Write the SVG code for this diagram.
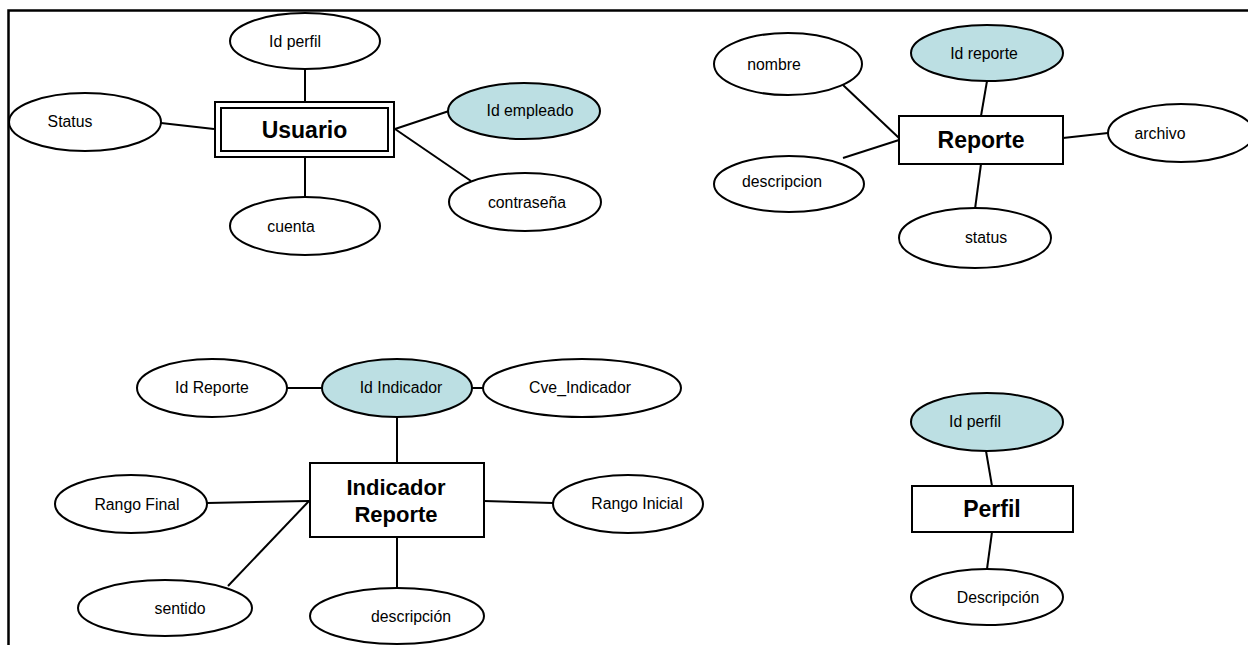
<svg xmlns="http://www.w3.org/2000/svg" width="1248" height="645" viewBox="0 0 1248 645">
  <style>
    .attr { fill: #ffffff; stroke: #000000; stroke-width: 2; }
    .key { fill: #bcdfe3; stroke: #000000; stroke-width: 2; }
    .ent { fill: #ffffff; stroke: #000000; stroke-width: 2; }
    .lbl { font-family: "Liberation Sans", Arial, sans-serif; font-size: 15.8px; fill: #000000; text-anchor: middle; }
    .title { font-family: "Liberation Sans", Arial, sans-serif; font-size: 23px; font-weight: bold; fill: #000000; text-anchor: middle; }
    .title2 { font-family: "Liberation Sans", Arial, sans-serif; font-size: 22px; font-weight: bold; fill: #000000; text-anchor: middle; }
    .link { stroke: #000000; stroke-width: 2; fill: none; }
  </style>
  <rect width="1248" height="645" fill="#ffffff"/>

  <!-- page frame -->
  <path d="M 8.5 645 V 10.5 H 1248" fill="none" stroke="#000000" stroke-width="2.5"/>

  <!-- connectors -->
  <g id="connectors">
    <!-- Usuario -->
    <line class="link" x1="305" y1="69" x2="305" y2="101"/>
    <line class="link" x1="161" y1="123" x2="214" y2="129"/>
    <line class="link" x1="305" y1="158" x2="305" y2="197"/>
    <line class="link" x1="395" y1="129" x2="449" y2="111"/>
    <line class="link" x1="395" y1="129" x2="471" y2="181"/>
    <!-- Reporte -->
    <line class="link" x1="843" y1="85" x2="899" y2="138"/>
    <line class="link" x1="843" y1="158" x2="899" y2="140"/>
    <line class="link" x1="987" y1="81" x2="981" y2="116"/>
    <line class="link" x1="981" y1="164" x2="975" y2="209"/>
    <line class="link" x1="1063" y1="138" x2="1108" y2="133"/>
    <!-- Indicador Reporte -->
    <line class="link" x1="287" y1="388" x2="322" y2="388"/>
    <line class="link" x1="472" y1="388" x2="483" y2="388"/>
    <line class="link" x1="397" y1="417" x2="397" y2="463"/>
    <line class="link" x1="207" y1="503" x2="309" y2="501"/>
    <line class="link" x1="228" y1="586" x2="309" y2="501"/>
    <line class="link" x1="484" y1="501" x2="553" y2="503"/>
    <line class="link" x1="397" y1="537" x2="397" y2="588"/>
    <!-- Perfil -->
    <line class="link" x1="986" y1="451" x2="992" y2="486"/>
    <line class="link" x1="992" y1="532" x2="987" y2="569"/>
  </g>

  <!-- entity: Usuario (weak entity, double border) -->
  <g id="usuario">
    <rect class="ent" x="215" y="102" width="179" height="55"/>
    <rect class="ent" x="221" y="108" width="167" height="43"/>
    <text class="title" x="304.5" y="138">Usuario</text>
  </g>
  <g id="usuario-idperfil">
    <ellipse class="attr" cx="305" cy="41" rx="75" ry="28"/>
    <text class="lbl" x="295" y="47">Id perfil</text>
  </g>
  <g id="usuario-status">
    <ellipse class="attr" cx="85" cy="122" rx="76" ry="29"/>
    <text class="lbl" x="70" y="127">Status</text>
  </g>
  <g id="usuario-cuenta">
    <ellipse class="attr" cx="305" cy="226" rx="75" ry="29"/>
    <text class="lbl" x="291" y="232">cuenta</text>
  </g>
  <g id="usuario-idempleado">
    <ellipse class="key" cx="524" cy="111" rx="76" ry="28"/>
    <text class="lbl" x="530" y="116">Id empleado</text>
  </g>
  <g id="usuario-contrasena">
    <ellipse class="attr" cx="525" cy="202" rx="76" ry="29"/>
    <text class="lbl" x="527" y="208">contraseña</text>
  </g>

  <!-- entity: Reporte -->
  <g id="reporte">
    <rect class="ent" x="899" y="116" width="164" height="48"/>
    <text class="title" x="981" y="148">Reporte</text>
  </g>
  <g id="reporte-nombre">
    <ellipse class="attr" cx="788" cy="64" rx="74" ry="31"/>
    <text class="lbl" x="774" y="70">nombre</text>
  </g>
  <g id="reporte-idreporte">
    <ellipse class="key" cx="987" cy="53" rx="76" ry="28"/>
    <text class="lbl" x="984" y="59">Id reporte</text>
  </g>
  <g id="reporte-descripcion">
    <ellipse class="attr" cx="789" cy="184" rx="75" ry="28"/>
    <text class="lbl" x="782" y="187">descripcion</text>
  </g>
  <g id="reporte-status">
    <ellipse class="attr" cx="975" cy="238" rx="76" ry="30"/>
    <text class="lbl" x="986" y="243">status</text>
  </g>
  <g id="reporte-archivo">
    <ellipse class="attr" cx="1181" cy="133" rx="73" ry="29"/>
    <text class="lbl" x="1160" y="139">archivo</text>
  </g>

  <!-- entity: Indicador Reporte -->
  <g id="indicador-reporte">
    <rect class="ent" x="310" y="463" width="174" height="74"/>
    <text class="title2" x="396" y="495">Indicador</text>
    <text class="title2" x="396" y="522">Reporte</text>
  </g>
  <g id="ir-idreporte">
    <ellipse class="attr" cx="212" cy="388" rx="75" ry="29"/>
    <text class="lbl" x="212" y="393">Id Reporte</text>
  </g>
  <g id="ir-idindicador">
    <ellipse class="key" cx="397" cy="388" rx="75" ry="29"/>
    <text class="lbl" x="401" y="393">Id Indicador</text>
  </g>
  <g id="ir-cve">
    <ellipse class="attr" cx="582" cy="388" rx="99" ry="29"/>
    <text class="lbl" x="580" y="393">Cve_Indicador</text>
  </g>
  <g id="ir-rangofinal">
    <ellipse class="attr" cx="131" cy="504" rx="76" ry="29"/>
    <text class="lbl" x="137" y="510">Rango Final</text>
  </g>
  <g id="ir-rangoinicial">
    <ellipse class="attr" cx="628" cy="504" rx="75" ry="29"/>
    <text class="lbl" x="637" y="509">Rango Inicial</text>
  </g>
  <g id="ir-sentido">
    <ellipse class="attr" cx="165" cy="608" rx="87" ry="28"/>
    <text class="lbl" x="180" y="614">sentido</text>
  </g>
  <g id="ir-descripcion">
    <ellipse class="attr" cx="397" cy="616" rx="87" ry="28"/>
    <text class="lbl" x="411" y="622">descripción</text>
  </g>

  <!-- entity: Perfil -->
  <g id="perfil">
    <rect class="ent" x="912" y="486" width="161" height="46"/>
    <text class="title" x="992" y="517">Perfil</text>
  </g>
  <g id="perfil-idperfil">
    <ellipse class="key" cx="987" cy="422" rx="76" ry="29"/>
    <text class="lbl" x="975" y="427">Id perfil</text>
  </g>
  <g id="perfil-descripcion">
    <ellipse class="attr" cx="987" cy="597" rx="76" ry="28"/>
    <text class="lbl" x="998" y="603">Descripción</text>
  </g>
</svg>
